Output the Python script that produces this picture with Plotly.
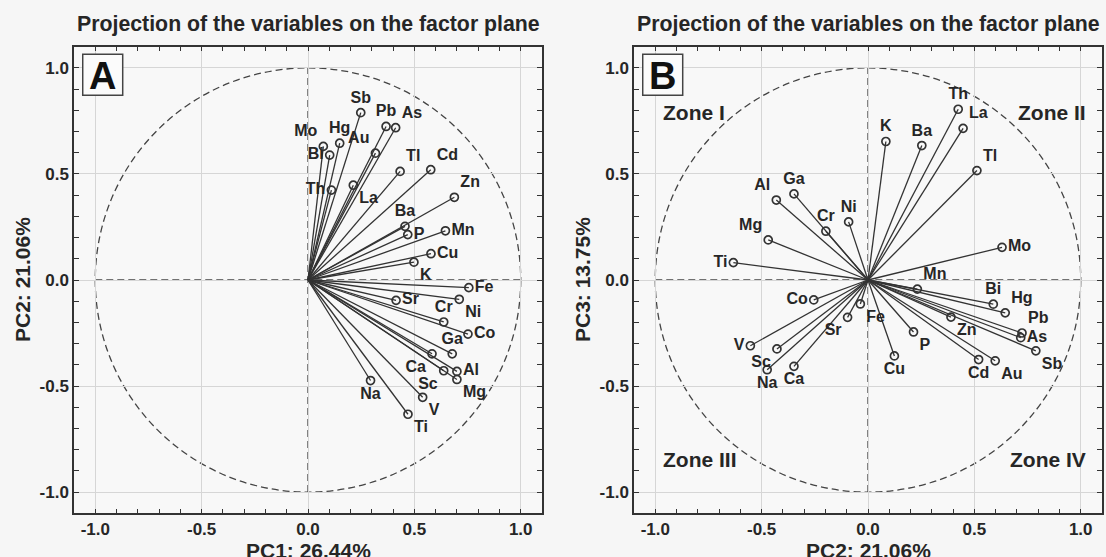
import plotly.graph_objects as go

# ---------------- data ----------------
ELEMENTS = ["Sb", "Pb", "As", "Mo", "Hg", "Bi", "Au", "Tl", "Cd", "Th",
            "La", "Zn", "Ba", "P", "Mn", "Cu", "K", "Fe", "Sr", "Ni",
            "Cr", "Co", "Ga", "Ca", "Al", "Sc", "Mg", "Na", "V", "Ti"]
PC1 = [0.248, 0.367, 0.412, 0.072, 0.149, 0.102, 0.317, 0.433, 0.577, 0.110,
       0.213, 0.688, 0.456, 0.469, 0.646, 0.578, 0.498, 0.756, 0.414, 0.711,
       0.638, 0.752, 0.678, 0.583, 0.700, 0.638, 0.700, 0.294, 0.539, 0.470]
PC2 = [0.789, 0.724, 0.718, 0.630, 0.645, 0.589, 0.598, 0.512, 0.520, 0.424,
       0.447, 0.390, 0.253, 0.214, 0.232, 0.124, 0.084, -0.036, -0.096, -0.091,
       -0.198, -0.255, -0.348, -0.348, -0.431, -0.428, -0.469, -0.474, -0.553, -0.633]
PC3 = [-0.334, -0.250, -0.272, 0.154, -0.155, -0.114, -0.381, 0.516, -0.375, 0.805,
       0.715, -0.175, 0.634, -0.245, -0.043, -0.358, 0.653, -0.113, -0.176, 0.274,
       0.230, -0.094, 0.406, -0.407, 0.377, -0.325, 0.189, -0.423, -0.310, 0.082]

TICK_VALUES = [-1.0, -0.5, 0.0, 0.5, 1.0]
TICK_TEXT = ["-1.0", "-0.5", "0.0", "0.5", "1.0"]
TITLE = "Projection of the variables on the factor plane"
X_TITLE_A, Y_TITLE_A = "PC1: 26.44%", "PC2: 21.06%"
X_TITLE_B, Y_TITLE_B = "PC2: 21.06%", "PC3: 13.75%"
PANEL_LETTERS = ["A", "B"]
ZONES = ["Zone I", "Zone II", "Zone III", "Zone IV"]
RADIUS = 1.0

# ---------------- label placement (style) ----------------
POS_A = {"Sb": "top center", "Pb": "top center", "As": "top right", "Mo": "top left",
         "Hg": "top center", "Bi": "middle left", "Au": "top left", "Tl": "top right",
         "Cd": "top right", "Th": "middle left", "La": "bottom right", "Zn": "top right",
         "Ba": "top center", "P": "middle right", "Mn": "middle right", "Cu": "middle right",
         "K": "bottom right", "Fe": "middle right", "Sr": "middle right", "Ni": "bottom right",
         "Cr": "top center", "Co": "middle right", "Ga": "top center", "Ca": "bottom left",
         "Al": "middle right", "Sc": "bottom left", "Mg": "bottom right", "Na": "bottom center",
         "V": "bottom right", "Ti": "bottom right"}
POS_B = {"Sb": "bottom right", "Pb": "top right", "As": "middle right", "Mo": "middle right",
         "Hg": "top right", "Bi": "top center", "Au": "bottom right", "Tl": "top right",
         "Cd": "bottom center", "Th": "top center", "La": "top right", "Zn": "bottom right",
         "Ba": "top center", "P": "bottom right", "Mn": "top right", "Cu": "bottom center",
         "K": "top center", "Fe": "bottom right", "Sr": "bottom left", "Ni": "top center",
         "Cr": "top center", "Co": "middle left", "Ga": "top center", "Ca": "bottom center",
         "Al": "top left", "Sc": "bottom left", "Mg": "top left", "Na": "bottom center",
         "V": "middle left", "Ti": "middle left"}

FONT = "Liberation Sans, Arial, sans-serif"
INK = "#262626"
LINE = "#333333"

fig = go.Figure()


def add_panel(xs, ys, pos, xa, ya):
    lx, ly = [], []
    for x, y in zip(xs, ys):
        lx += [0, x, None]
        ly += [0, y, None]
    fig.add_trace(go.Scatter(x=lx, y=ly, mode="lines", xaxis=xa, yaxis=ya,
                             line=dict(color=LINE, width=1.3), hoverinfo="skip",
                             showlegend=False))
    fig.add_trace(go.Scatter(x=xs, y=ys, mode="markers+text", xaxis=xa, yaxis=ya,
                             text=ELEMENTS, textposition=[pos[e] for e in ELEMENTS],
                             textfont=dict(family=FONT, size=16, color=INK, weight="bold"),
                             marker=dict(symbol="circle-open", size=8, color=LINE,
                                         line=dict(width=1.7, color=LINE)),
                             showlegend=False))


add_panel(PC1, PC2, POS_A, "x", "y")
add_panel(PC2, PC3, POS_B, "x2", "y2")

ax_common = dict(range=[-1.1, 1.1], tickmode="array", tickvals=TICK_VALUES, ticktext=TICK_TEXT,
                 ticks="inside", ticklen=5, tickwidth=1, tickcolor=LINE,
                 showline=True, linecolor=LINE, linewidth=1.5, mirror="ticks",
                 showgrid=True, gridcolor="#d6d6d6", gridwidth=1, zeroline=False,
                 tickfont=dict(family=FONT, size=17, color=INK, weight="bold"),
                 minor=dict(tickmode="linear", tick0=0, dtick=0.1, ticks="inside",
                            ticklen=5, tickwidth=1, tickcolor=LINE, showgrid=False),
                 fixedrange=True)

YD = [1 - 513.3 / 557, 1 - 46.7 / 557]
XD_A = [74 / 1106, 542 / 1106]
XD_B = [634 / 1106, 1102 / 1106]

fig.update_layout(
    width=1106, height=557,
    margin=dict(l=0, r=0, t=0, b=0),
    paper_bgcolor="#f6f6f6", plot_bgcolor="#f8f8f8",
    xaxis=dict(domain=XD_A, anchor="y", **ax_common),
    yaxis=dict(domain=YD, anchor="x", **ax_common),
    xaxis2=dict(domain=XD_B, anchor="y2", **ax_common),
    yaxis2=dict(domain=YD, anchor="x2", **ax_common),
)

shapes = []
annotations = []
for i, (xa, ya) in enumerate([("x", "y"), ("x2", "y2")]):
    dash_line = dict(color="#444444", width=1.3, dash="7px,4px")
    shapes.append(dict(type="circle", xref=xa, yref=ya, x0=-RADIUS, x1=RADIUS,
                       y0=-RADIUS, y1=RADIUS, line=dash_line, layer="below"))
    shapes.append(dict(type="line", xref=xa, yref=ya, x0=-RADIUS, x1=RADIUS, y0=0, y1=0,
                       line=dash_line, layer="below"))
    shapes.append(dict(type="line", xref=xa, yref=ya, x0=0, x1=0, y0=-RADIUS, y1=RADIUS,
                       line=dash_line, layer="below"))
    # panel letter box
    shapes.append(dict(type="rect", xref=xa, yref=ya, x0=-1.059, x1=-0.871,
                       y0=0.871, y1=1.064, line=dict(color="#444444", width=1.5),
                       fillcolor="#fbfbfb"))
    annotations.append(dict(text=PANEL_LETTERS[i], xref=xa, yref=ya, x=-0.965, y=0.962,
                            showarrow=False, xanchor="center", yanchor="middle",
                            font=dict(family=FONT, size=38, color="#111", weight="bold")))

xcA = (XD_A[0] + XD_A[1]) / 2
xcB = (XD_B[0] + XD_B[1]) / 2
for xc in (xcA, xcB):
    annotations.append(dict(text=TITLE, xref="paper", yref="paper", x=xc, y=1 - 24 / 557,
                            showarrow=False, xanchor="center", yanchor="middle",
                            font=dict(family=FONT, size=21.3, color=INK, weight="bold")))
for xc, t in ((xcA, X_TITLE_A), (xcB, X_TITLE_B)):
    annotations.append(dict(text=t, xref="paper", yref="paper", x=xc, y=1 - 537 / 557,
                            showarrow=False, xanchor="center", yanchor="top",
                            font=dict(family=FONT, size=21, color=INK, weight="bold")))
for xp, t in ((22 / 1106, Y_TITLE_A), (582 / 1106, Y_TITLE_B)):
    annotations.append(dict(text=t, xref="paper", yref="paper", x=xp, y=1 - 280 / 557,
                            showarrow=False, xanchor="center", yanchor="middle", textangle=-90,
                            font=dict(family=FONT, size=21, color=INK, weight="bold")))

zone_pos = [(-0.975, 0.79, "left"), (1.035, 0.79, "right"),
            (-0.975, -0.847, "left"), (1.035, -0.847, "right")]
for z, (zx, zy, anc) in zip(ZONES, zone_pos):
    annotations.append(dict(text=z, xref="x2", yref="y2", x=zx, y=zy, showarrow=False,
                            xanchor=anc, yanchor="middle",
                            font=dict(family=FONT, size=21, color=INK, weight="bold")))

fig.update_layout(shapes=shapes, annotations=annotations)
fig.write_html("out.html", config={"displayModeBar": False},
               post_script="document.body.style.margin='0px';"
                           "document.body.style.overflow='hidden';")
